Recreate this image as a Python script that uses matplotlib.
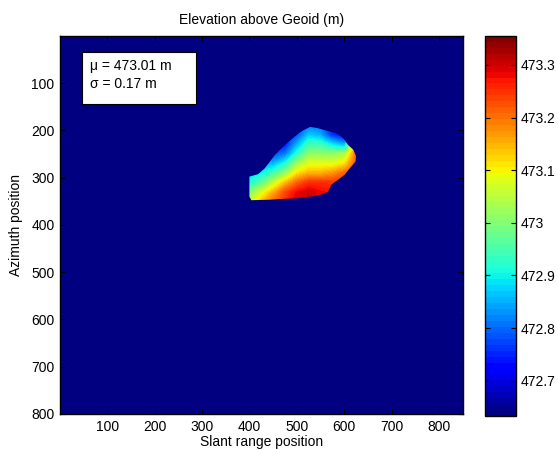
import numpy as np
import matplotlib
matplotlib.use("Agg")
import matplotlib.pyplot as plt
from matplotlib.patches import Polygon, Rectangle

plt.rcParams['font.family'] = ['Liberation Sans', 'DejaVu Sans']
plt.rcParams['font.size'] = 10

# image size (pixels) and colour limits
n_range, n_azimuth = 850, 800
clim = (472.633, 473.355)

# coarse elevation samples (m)
range_pos = [400, 425, 450, 475, 500, 525, 550, 575, 600, 625]
azimuth_pos = [190, 210, 230, 250, 270, 290, 310, 330, 350]
elev = [
  [472.81, 472.81, 472.78, 472.76, 472.78, 472.81, 472.81, 472.74, 472.71, 472.99],
  [472.81, 472.81, 472.78, 472.76, 472.78, 472.87, 472.85, 472.76, 472.72, 473.07],
  [472.83, 472.83, 472.76, 472.74, 472.85, 472.94, 472.94, 472.89, 472.85, 473.17],
  [472.85, 472.85, 472.78, 472.81, 472.92, 473.01, 473.01, 473.01, 473.03, 473.21],
  [472.86, 472.86, 472.85, 472.91, 473.02, 473.08, 473.08, 473.08, 473.11, 473.23],
  [472.87, 472.89, 472.94, 473.01, 473.11, 473.15, 473.15, 473.17, 473.21, 473.23],
  [472.91, 472.96, 473.05, 473.14, 473.21, 473.25, 473.25, 473.25, 473.25, 473.25],
  [472.99, 473.07, 473.15, 473.23, 473.28, 473.30, 473.28, 473.27, 473.25, 473.25],
  [473.05, 473.14, 473.21, 473.25, 473.30, 473.30, 473.28, 473.27, 473.25, 473.25],
]

# outline of the valid area (slant range, azimuth)
outline_x = [400, 418, 433, 454, 475, 496, 506, 514, 528, 542, 556, 570, 584, 598, 608,
             619, 625, 624, 619, 612, 601, 587, 573, 566, 552, 531, 500, 475, 443, 404, 400]
outline_y = [298, 293, 280, 252, 231, 213, 205, 200, 193, 195, 199, 203, 206, 217, 231,
             241, 255, 266, 272, 280, 294, 305, 315, 330, 336, 340, 344, 345, 347, 348, 340]

xticks = [100, 200, 300, 400, 500, 600, 700, 800]
yticks = [100, 200, 300, 400, 500, 600, 700, 800]
cticks = [472.7, 472.8, 472.9, 473.0, 473.1, 473.2, 473.3]
cticklabels = ["472.7", "472.8", "472.9", "473", "473.1", "473.2", "473.3"]

mu, sigma = 473.01, 0.17


def main():
  cmap = plt.get_cmap('jet', 64)
  fig = plt.figure(figsize=(5.58, 4.5), dpi=100)
  ax = fig.add_axes([0.1075, 0.08, 0.7222, 0.84])
  cax = fig.add_axes([0.869, 0.0756, 0.055, 0.8444])

  # no-data pixels show as the lowest colour
  ax.set_facecolor(cmap(0))
  dx = range_pos[1] - range_pos[0]
  dy = azimuth_pos[1] - azimuth_pos[0]
  im = ax.imshow(np.array(elev), cmap=cmap, vmin=clim[0], vmax=clim[1],
                 interpolation='bilinear', interpolation_stage='data', origin='upper',
                 extent=(range_pos[0] - dx / 2, range_pos[-1] + dx / 2,
                         azimuth_pos[-1] + dy / 2, azimuth_pos[0] - dy / 2))
  patch = Polygon(np.column_stack([outline_x, outline_y]), closed=True,
                  transform=ax.transData, facecolor='none', edgecolor='none')
  ax.add_patch(patch)
  im.set_clip_path(patch)

  ax.set_aspect('auto')
  ax.set_xlim(0.5, n_range + 0.5)
  ax.set_ylim(n_azimuth + 0.5, 0.5)
  ax.set_xticks(xticks)
  ax.set_yticks(yticks)
  ax.tick_params(direction='in', length=3.5, top=True, right=True, width=0.8, pad=4)
  for s in ax.spines.values():
    s.set_linewidth(1.0)
  ax.set_title("Elevation above Geoid (m)", fontsize=10, pad=9)
  ax.set_xlabel("Slant range position", labelpad=1)
  ax.set_ylabel("Azimuth position", labelpad=6)

  # stats box
  ax.add_patch(Rectangle((0.054, 0.819), 0.283, 0.138, transform=ax.transAxes,
                         facecolor='white', edgecolor='black', linewidth=0.8, zorder=5))
  ax.text(0.074, 0.921, "\u03bc = %.2f m" % mu, transform=ax.transAxes,
          va='center', ha='left', zorder=6)
  ax.text(0.074, 0.873, "\u03c3 = %.2f m" % sigma, transform=ax.transAxes,
          va='center', ha='left', zorder=6)

  cb = fig.colorbar(im, cax=cax)
  cb.set_ticks(cticks)
  cb.set_ticklabels(cticklabels)
  cax.tick_params(direction='in', length=3.5, left=True, right=True, width=0.8)
  cb.outline.set_linewidth(1.0)

  fig.savefig("out.png", dpi=100)


if __name__ == "__main__":
  main()
